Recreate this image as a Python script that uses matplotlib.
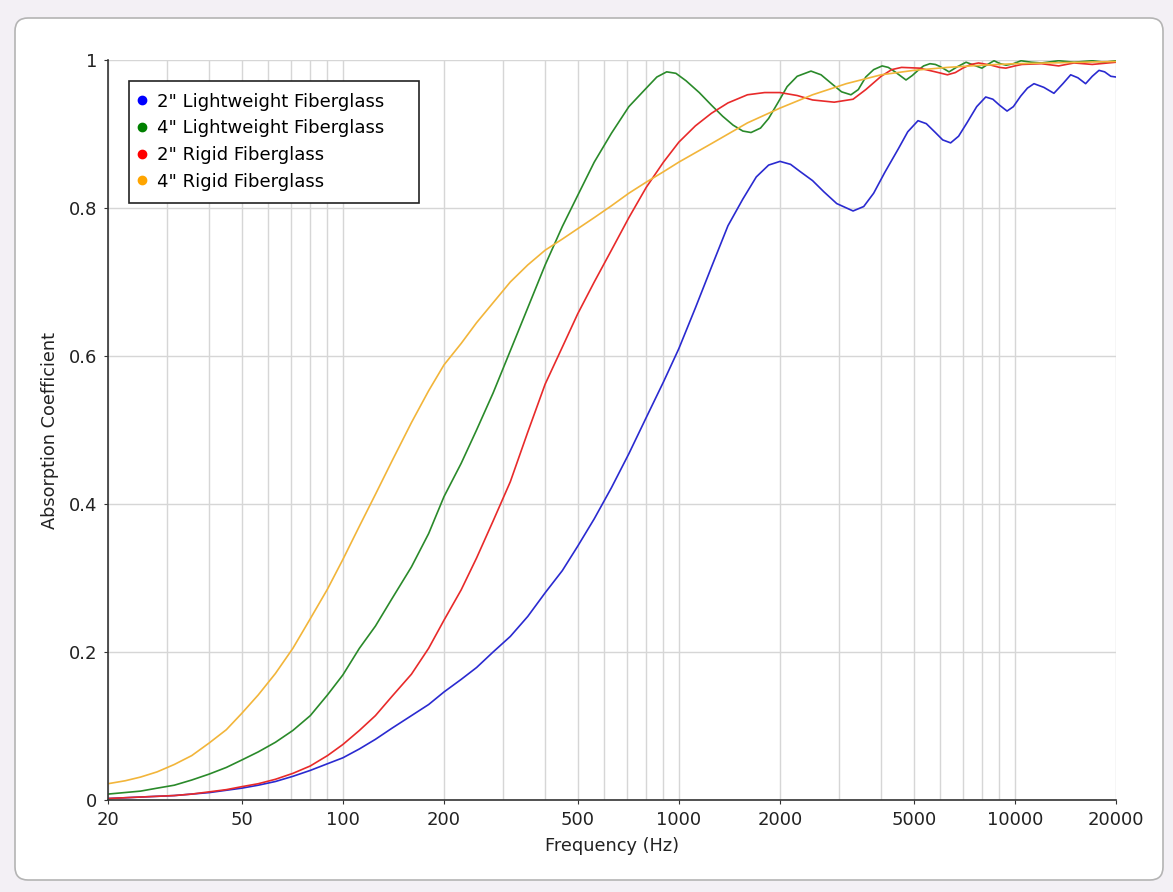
import matplotlib.pyplot as plt
import numpy as np
from matplotlib.lines import Line2D
from matplotlib.patches import FancyBboxPatch, Rectangle
from matplotlib.ticker import FixedLocator, FixedFormatter, NullFormatter

# ── data ───────────────────────────────────────────────────────────────────────
labels = ['2" Lightweight Fiberglass', '4" Lightweight Fiberglass',
          '2" Rigid Fiberglass', '4" Rigid Fiberglass']
colors = ["#0000ff", "#008000", "#ff0000", "#ffa500"]
line_colors = ["#2a2ad0", "#2a8a2a", "#e82a2a", "#f2b53a"]

# 2" lightweight
f_lw2 = [20, 25, 31.5, 40, 50, 56, 63, 71, 80, 90, 100, 112, 125, 140, 160, 180,
         200, 225, 250, 280, 315, 355, 400, 450,
         500, 560, 630, 710, 800, 900, 1000, 1120, 1250, 1400, 1550, 1700, 1850,
         2000, 2150, 2300, 2500, 2700, 2950, 3300, 3550, 3800, 4100, 4500, 4800,
         5150, 5450, 5800, 6100, 6440, 6800, 7200, 7700, 8190, 8600, 9000, 9480,
         9900, 10400, 10900, 11400, 12200, 13070, 13900, 14660, 15400, 16240,
         17000, 17800, 18500, 19300, 20000]
a_lw2 = [0.002, 0.004, 0.006, 0.010, 0.016, 0.020, 0.025, 0.032, 0.040, 0.049,
         0.057, 0.069, 0.082, 0.097, 0.114, 0.129,
         0.146, 0.163, 0.179, 0.200, 0.221, 0.248, 0.280, 0.310, 0.343, 0.380,
         0.422, 0.468, 0.517,
         0.565, 0.610, 0.665, 0.720, 0.776, 0.812, 0.842, 0.858, 0.863, 0.859,
         0.849, 0.837, 0.822, 0.806, 0.796, 0.802, 0.820, 0.848, 0.880, 0.903,
         0.918, 0.914, 0.902, 0.892, 0.888, 0.897, 0.915, 0.937, 0.950, 0.947,
         0.939, 0.931, 0.937, 0.951, 0.962, 0.968, 0.963, 0.955, 0.968, 0.980,
         0.976, 0.968, 0.978, 0.986, 0.984, 0.978, 0.977]

# 4" lightweight
f_lw4 = [20, 25, 28, 31.5, 35.5, 40, 45, 50, 56, 63, 71, 80, 90, 100, 112, 125,
         140, 160, 180, 200, 225, 250, 280, 315, 355,
         400, 450, 500, 560, 630, 710, 800, 860, 920, 980, 1050, 1150, 1250, 1350,
         1450, 1550, 1640, 1750, 1850, 1970, 2100, 2250, 2473, 2650, 2850, 3050,
         3252, 3420, 3600, 3800, 4027, 4200, 4400, 4743, 4950, 5150, 5350, 5590,
         5800, 6000, 6370, 6750, 7160, 7550, 7980, 8300, 8670, 9050, 9420, 9900,
         10430, 11200, 12000, 13500, 15000, 17000, 18500, 20000]
a_lw4 = [0.008, 0.012, 0.016, 0.020, 0.027, 0.035, 0.044, 0.054, 0.065, 0.078,
         0.094, 0.114, 0.142, 0.169, 0.205, 0.235, 0.272, 0.315, 0.360,
         0.410, 0.455, 0.500, 0.550, 0.607, 0.665, 0.723, 0.775, 0.817, 0.862, 0.901,
         0.937, 0.962, 0.977, 0.984, 0.982, 0.972, 0.956, 0.939, 0.924, 0.912,
         0.904, 0.902, 0.908, 0.921, 0.942, 0.964, 0.978, 0.985, 0.980, 0.968,
         0.957, 0.953, 0.960, 0.977, 0.987, 0.992, 0.990, 0.984, 0.973, 0.979,
         0.986, 0.992, 0.995, 0.994, 0.991, 0.984, 0.991, 0.997, 0.993, 0.989,
         0.994, 0.999, 0.995, 0.993, 0.995, 0.999, 0.997, 0.996, 0.999, 0.997,
         0.999, 0.997, 0.999]

# 2" rigid
f_rg2 = [20, 25, 28, 31.5, 35.5, 40, 45, 50, 56, 63, 71, 80, 90, 100, 112, 125,
         140, 160, 180, 200, 225, 250, 280, 315,
         355, 400, 450, 500, 560, 630, 710, 800, 900, 1000, 1120, 1250, 1400,
         1600, 1800, 2000, 2250, 2500, 2900, 3300, 3600, 4000, 4300, 4600, 5200,
         5800, 6300, 6650, 7000, 7400, 7800, 8500, 9000, 9400, 10000, 10500,
         12000, 13500, 15000, 17000, 20000]
a_rg2 = [0.002, 0.004, 0.005, 0.006, 0.008, 0.011, 0.014, 0.018, 0.022, 0.028,
         0.036, 0.046, 0.060, 0.075, 0.094, 0.114, 0.140, 0.170, 0.205,
         0.243, 0.284, 0.327, 0.377, 0.430, 0.497, 0.562, 0.612, 0.657, 0.700,
         0.743, 0.787, 0.828, 0.862, 0.889, 0.911, 0.928, 0.942, 0.953, 0.956,
         0.956, 0.952, 0.946, 0.943, 0.947, 0.960, 0.978, 0.987, 0.990, 0.989,
         0.984, 0.980, 0.983, 0.989, 0.994, 0.996, 0.993, 0.990, 0.989, 0.992,
         0.994, 0.995, 0.992, 0.996, 0.994, 0.997]

# 4" rigid
f_rg4 = [20, 22.5, 25, 28, 31.5, 35.5, 40, 45, 50, 56, 63, 71, 80, 90, 100, 112,
         125, 140, 160, 180, 200, 225, 250, 280, 315, 355, 400, 450, 500, 560,
         630, 710, 800, 900, 1000, 1250, 1600, 2000, 2500, 3150, 4000, 5000,
         6300, 8000, 10000, 12500, 16000, 20000]
a_rg4 = [0.022, 0.026, 0.031, 0.038, 0.048, 0.060, 0.077, 0.095, 0.117, 0.142,
         0.171, 0.205, 0.245, 0.285, 0.325, 0.370, 0.413, 0.458, 0.510, 0.553,
         0.588, 0.617, 0.645, 0.672, 0.700, 0.723, 0.743, 0.758, 0.772, 0.787,
         0.803, 0.820, 0.835, 0.849, 0.862, 0.887, 0.915, 0.935, 0.953, 0.968,
         0.980, 0.986, 0.990, 0.993, 0.995, 0.996, 0.997, 0.998]

x_ticks = [20, 50, 100, 200, 500, 1000, 2000, 5000, 10000, 20000]
x_minor = [30, 40, 60, 70, 80, 90, 300, 400, 600, 700, 800, 900,
           3000, 4000, 6000, 7000, 8000, 9000]
y_ticks = [0, 0.2, 0.4, 0.6, 0.8, 1]
y_tick_labels = ["0", "0.2", "0.4", "0.6", "0.8", "1"]

# ── figure ─────────────────────────────────────────────────────────────────────
plt.rcParams["font.family"] = "DejaVu Sans"
fig = plt.figure(figsize=(11.73, 8.92), dpi=100, facecolor="#f3f0f5")
card = FancyBboxPatch((0.15, 0.12), 11.48, 8.62,
                      boxstyle="round,pad=0,rounding_size=0.13",
                      transform=fig.dpi_scale_trans,
                      facecolor="white", edgecolor="#b4b4b4", lw=1.2, zorder=-5)
fig.patches.append(card)
ax = fig.add_axes([108 / 1173, 1 - 800 / 892, 1008 / 1173, 740 / 892])
ax.set_zorder(2)

for f, a, c in zip([f_lw2, f_lw4, f_rg2, f_rg4], [a_lw2, a_lw4, a_rg2, a_rg4], line_colors):
    ax.plot(f, a, color=c, lw=1.2)

ax.set_xscale("log")
ax.set_xlim(20, 20000)
ax.set_ylim(0, 1)
ax.xaxis.set_major_locator(FixedLocator(x_ticks))
ax.xaxis.set_major_formatter(FixedFormatter([str(t) for t in x_ticks]))
ax.xaxis.set_minor_locator(FixedLocator(x_minor))
ax.xaxis.set_minor_formatter(NullFormatter())
ax.set_yticks(y_ticks)
ax.set_yticklabels(y_tick_labels)

ax.grid(True, which="major", color="#d6d6d6", lw=1)
ax.grid(True, which="minor", axis="x", color="#d6d6d6", lw=1)
ax.set_axisbelow(True)
for s in ["top", "right"]:
    ax.spines[s].set_visible(False)
for s in ["left", "bottom"]:
    ax.spines[s].set_color("#333333")
    ax.spines[s].set_linewidth(1.2)
ax.tick_params(which="major", direction="out", length=3, color="#333333",
               labelsize=13, labelcolor="#222222", pad=5)
ax.tick_params(which="minor", length=0)

ax.set_xlabel("Frequency (Hz)", fontsize=12.8, color="#222222", labelpad=6)
ax.set_ylabel("Absorption Coefficient", fontsize=12.8, color="#222222", labelpad=7)

# legend box (wider than the text, as in the original)
ax.add_patch(Rectangle((0.0208, 0.8068), 0.2877, 0.1648, transform=ax.transAxes,
                       facecolor="white", edgecolor="#222222", lw=1.2, zorder=4))
handles = [Line2D([], [], ls="none", marker="o", markersize=6, color=c) for c in colors]
leg = ax.legend(handles, labels, loc="upper left", bbox_to_anchor=(0.028, 0.9558),
                fontsize=13, frameon=False, handlelength=0.6, borderaxespad=0,
                handletextpad=0.55, borderpad=0, labelspacing=0.48)
leg.set_zorder(5)

plt.savefig("out.png", dpi=100, facecolor=fig.get_facecolor())
